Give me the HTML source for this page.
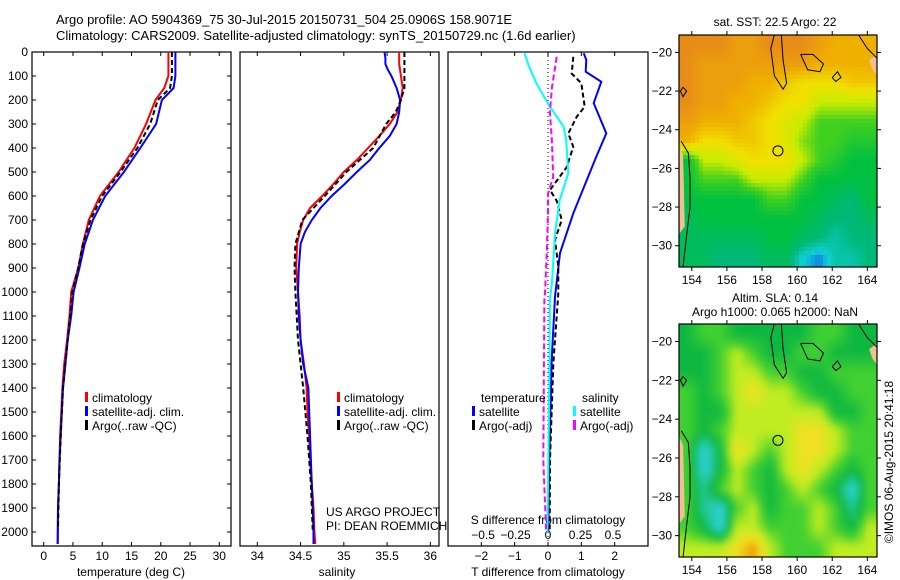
<!DOCTYPE html>
<html><head><meta charset="utf-8"><style>
body{margin:0;background:#fff}
svg{display:block;font-family:"Liberation Sans",sans-serif}
text{font-size:12px;fill:#000}
</style></head><body>
<svg id="chart" width="900" height="580" viewBox="0 0 900 580">
<defs>
<filter id="blur" x="0" y="0" width="1" height="1"><feGaussianBlur stdDeviation="3"/></filter>
<clipPath id="clipTop"><rect x="679" y="35" width="198" height="232"/></clipPath>
<clipPath id="clipBot"><rect x="679" y="324" width="198" height="233"/></clipPath>
</defs>
<text x="56" y="24" style="font-size:13px">Argo profile: AO 5904369_75 30-Jul-2015 20150731_504 25.0906S 158.9071E</text>
<text x="56" y="40" style="font-size:13px">Climatology: CARS2009. Satellite-adjusted climatology: synTS_20150729.nc (1.6d earlier)</text>
<g id="g"></g>
</svg>
<script>
// ---- data ----
const depthT=[0,50,100,150,200,300,400,500,600,700,800,900,1000,1100,1200,1300,1400,1500,1600,1700,1800,1900,2000,2050];
const tempClim=[21.3,21.3,21.3,20.6,19.1,17.5,15.5,12.8,9.6,7.7,6.7,5.9,4.7,4.4,4.0,3.5,3.2,3.0,2.8,2.7,2.6,2.45,2.4,2.35];
const tempSat=[22.5,22.5,22.5,22.2,20.2,19.2,16.5,13.7,10.5,8.4,7.0,6.1,5.1,4.7,4.1,3.7,3.3,3.1,2.9,2.7,2.6,2.45,2.4,2.4];
const depthArgoT=[0,50,100,150,200,300,400,500,600,700,800,900,1000,1200,1400,1600,1800,1990];
const tempArgo=[21.9,21.9,21.9,21.6,19.5,18.2,16.0,13.1,10.0,8.0,6.7,5.9,4.9,4.1,3.3,2.9,2.6,2.45];
const depthS=[0,25,50,75,100,150,200,250,300,350,400,450,500,550,600,650,700,750,800,900,1000,1100,1200,1300,1400,1500,1600,1700,1800,1900,2000,2050];
const salClim=[35.64,35.64,35.64,35.65,35.66,35.68,35.66,35.62,35.53,35.41,35.28,35.15,35.0,34.88,34.75,34.61,34.53,34.49,34.46,34.45,34.47,34.49,34.5,34.54,34.57,34.58,34.6,34.61,34.63,34.65,34.66,34.67];
const salSat=[35.47,35.48,35.48,35.51,35.55,35.61,35.65,35.64,35.61,35.53,35.41,35.3,35.15,35.01,34.86,34.73,34.63,34.55,34.5,34.48,34.47,34.48,34.5,34.53,34.59,34.6,34.61,34.62,34.63,34.64,34.65,34.65];
const depthArgoS=[0,100,150,200,250,300,400,500,600,700,800,900,1000,1200,1400,1600,1800,1990];
const salArgo=[35.7,35.7,35.7,35.66,35.6,35.49,35.34,35.03,34.78,34.52,34.44,34.43,34.44,34.47,34.53,34.58,34.62,34.64];
const depthDT=[5,33,82,124,213,339,436,672,838,1020,1283,1700,2000];
const dTSat=[1.07,1.15,1.13,1.6,1.37,1.75,1.45,0.76,0.36,0.21,0.11,0.04,0.01];
const depthDTA=[20,90,130,228,270,339,395,480,575,620,700,783,894,1005,1300,1700,1990];
const dTArgo=[0.76,0.71,1.0,1.1,0.86,0.61,0.76,0.56,0.06,0.26,0.41,0.21,0.31,0.31,0.16,0.06,0.05];
const depthDS=[5,55,130,228,311,367,505,617,755,964,1033,1500,2000];
const dSSat=[-0.18,-0.15,-0.09,0.015,0.12,0.14,0.156,0.09,0.054,0.03,0.015,0.008,-0.005];
const depthDSA=[20,150,250,370,520,590,675,840,1005,1033,1700,1990];
const dSArgo=[0.067,0.03,0.015,0.03,0.04,0.0,0.0,-0.01,-0.023,-0.028,-0.036,-0.015];
const depthTicks=[0,100,200,300,400,500,600,700,800,900,1000,1100,1200,1300,1400,1500,1600,1700,1800,1900,2000];
const tempTicks=[0,5,10,15,20,25,30];
const salTicks=[34,34.5,35,35.5,36];
const dTTicks=[-2,-1,0,1,2];
const dSTicks=[-0.5,-0.25,0,0.25,0.5];
const lonTicks=[154,156,158,160,162,164];
const latTicks=[-20,-22,-24,-26,-28,-30];
const sstGrid=[
[8,8,8,7.5,7.5,8,8,8,7.5,7,7,7],[8,7.5,7.5,7.5,7.5,7.5,7.5,7.5,7,7,7,7],[8,7.5,7.5,7.5,7,7,6.5,6,6,6,6.5,6.5],
[8,7.5,7.5,7,7,6.5,6,6,5,5,5,5],[7.5,7,7,7,6.5,6,5.5,5,4,4,4,4],[7,6,6,6.5,6.5,6,5.5,4.5,4,4,3.5,3.5],
[3,5,5,5.5,6,6,6,5,4,3.5,3,3],[3,4,4,4,5,5,5,4,3,3,3,3],[3,3,3,3,3,4,4,3,3,2.5,2,3],
[2.5,3,3,3,3,3,3,3,2.5,2,2,2.5],[2.5,2.5,2.5,2.5,2.5,3,3,2.5,2,1.5,2,2],[2.5,2.5,2,2,2,2.5,2.5,1,0.5,1.5,1.5,2]];
const slaGrid=[
[3,4,4,3,3,3,3,3,4,4,3,3],[3,3,4,5,4,3,3,4,4,3,3,3],[3,3,4,5,5,4,4,3,3,4,4,4],
[4,3,4,5,6,5,5,4,3,3,4,4],[4,3,3,5,5,5,5,5,5,3,3,4],[4,3,4,5,5,5,5,6,6,5,4,4],
[4,1,3,6,5,4,5,6,6,5,4,4],[4,1,3,5,4,3,5,6,5,4,3,4],[4,2,4,5,4,3,4,5,4,3,1,4],
[4,2,1,4,5,3,4,4,5,4,2,4],[4,3,1,5,5,4,4,4,5,4,3,5],[5,5,5,6,7,5,4,4,4,5,5,5]];
const argoLon=158.9071, argoLat=-25.0906;

// ---- drawing ----
const NS='http://www.w3.org/2000/svg';
const G=document.getElementById('g');
function mk(tag,attrs,parent){const e=document.createElementNS(NS,tag);for(const k in attrs)e.setAttribute(k,attrs[k]);(parent||G).appendChild(e);return e;}
function txt(x,y,s,anchor,name,extra){const t=mk('text',Object.assign({x:x,y:y,'text-anchor':anchor||'start'},extra||{}));t.textContent=s;


return t;}
const yD=d=>52+d*0.24;
const Y0=52,Y1=546;
function lin(d0,d1,p0,p1){return v=>p0+(v-d0)*(p1-p0)/(d1-d0);}
const xT=lin(-2,32,32,231), xS=lin(33.8,36.1,240,439), xDT=lin(-3,3,448,648), xDS=lin(-0.77,0.77,448,648);

function panel(x0,x1,name){const r=mk('rect',{x:x0,y:Y0,width:x1-x0,height:Y1-Y0,fill:'none',stroke:'#000','stroke-width':1.2});

}
function line(xs,ds,xf,color,dash,name){const pts=xs.map((v,i)=>xf(v).toFixed(1)+','+yD(ds[i]).toFixed(1)).join(' ');
const p=mk('polyline',{points:pts,fill:'none',stroke:color,'stroke-width':2});if(dash)p.setAttribute('stroke-dasharray',dash);

}

panel(32,231,'temperature-panel');panel(240,439,'salinity-panel');panel(448,648,'difference-panel');
depthTicks.forEach(d=>{const y=yD(d);mk('line',{x1:32,y1:y,x2:36,y2:y,stroke:'#000'});mk('line',{x1:227,y1:y,x2:231,y2:y,stroke:'#000'});
txt(28,y+4,String(d),'end','depth-tick-label');});
function xticks(ticks,xf,yl,name,fmt){ticks.forEach(v=>{const x=xf(v);mk('line',{x1:x,y1:Y0,x2:x,y2:Y0+4,stroke:'#000'});mk('line',{x1:x,y1:Y1,x2:x,y2:Y1-4,stroke:'#000'});
txt(x,yl,fmt?fmt(v):String(v),'middle',name);});}
xticks(tempTicks,xT,560,'temperature-tick-label');
xticks(salTicks,xS,560,'salinity-tick-label');
xticks(dTTicks,xDT,560,'t-diff-tick-label',v=>v<0?'\u2212'+(-v):String(v));
dSTicks.forEach(v=>{txt(xDS(v),539,v<0?'\u2212'+(-v):String(v),'middle','s-diff-tick-label');});
txt(131,576,'temperature (deg C)','middle','temperature-axis-title');
txt(337,576,'salinity','middle','salinity-axis-title');
txt(548,576,'T difference from climatology','middle','t-diff-axis-title');
txt(548,524,'S difference from climatology','middle','s-diff-axis-title');

line(tempClim,depthT,xT,'#f00',null,'temp-climatology-line');
line(tempSat,depthT,xT,'#00f',null,'temp-satellite-line');
line(tempArgo,depthArgoT,xT,'#000','5,3','temp-argo-line');
line(salClim,depthS,xS,'#f00',null,'sal-climatology-line');
line(salSat,depthS,xS,'#00f',null,'sal-satellite-line');
line(salArgo,depthArgoS,xS,'#000','5,3','sal-argo-line');
mk('line',{x1:xDT(0),y1:Y0,x2:xDT(0),y2:Y1,stroke:'#000','stroke-width':1,'stroke-dasharray':'1,3'});
line(dTSat,depthDT,xDT,'#00f',null,'t-diff-satellite-line');
line(dTArgo,depthDTA,xDT,'#000','5,3','t-diff-argo-line');
line(dSSat,depthDS,xDS,'#0ff',null,'s-diff-satellite-line');
line(dSArgo,depthDSA,xDS,'#f0f','6,3','s-diff-argo-line');

function legend(x,y,color,label,name){const r=mk('rect',{x:x,y:y-10,width:3,height:10,fill:color});


txt(x+7,y,label,'start',name);}
[[85,'climatology','#f00'],[85,'satellite-adj. clim.','#00f'],[85,'Argo(..raw -QC)','#000']].forEach((e,i)=>legend(e[0],402+i*14,e[2],e[1],'temp-legend-entry'));
[[337,'climatology','#f00'],[337,'satellite-adj. clim.','#00f'],[337,'Argo(..raw -QC)','#000']].forEach((e,i)=>legend(e[0],402+i*14,e[2],e[1],'sal-legend-entry'));
txt(481,402,'temperature','start','legend-temperature-heading');
txt(582,402,'salinity','start','legend-salinity-heading');
legend(472,416,'#00f','satellite','legend-t-satellite');
legend(472,430,'#000','Argo(-adj)','legend-t-argo');
legend(573,416,'#0ff','satellite','legend-s-satellite');
legend(573,430,'#f0f','Argo(-adj)','legend-s-argo');
txt(326,516,'US ARGO PROJECT','start','project-label');
txt(326,530,'PI: DEAN ROEMMICH','start','pi-label');

// maps
const xLon=lin(153.27,164.55,679,877);
const sstStops=['#1040e0','#10d0d8','#00b878','#00c040','#40d020','#c8ec00','#f0e000','#f0b000','#e88c18'];
const slaStops=['#1040e0','#30d0e0','#20c890','#10b840','#40d030','#c0ec20','#f0e020','#f0a000'];
function hex(c){return [1,3,5].map(i=>parseInt(c.substr(i,2),16));}
function cmap(stops,v){v=Math.max(0,Math.min(stops.length-1,v));const i=Math.min(stops.length-2,Math.floor(v)),f=v-i;
const a=hex(stops[i]),b=hex(stops[i+1]);return 'rgb('+a.map((x,k)=>Math.round(x+(b[k]-x)*f)).join(',')+')';}
function sample(grid,r,c){const nr=grid.length,nc=grid[0].length;
r=Math.max(0,Math.min(nr-1,r));c=Math.max(0,Math.min(nc-1,c));const r0=Math.min(nr-2,Math.floor(r)),c0=Math.min(nc-2,Math.floor(c));
const fr=r-r0,fc=c-c0;return grid[r0][c0]*(1-fr)*(1-fc)+grid[r0][c0+1]*(1-fr)*fc+grid[r0+1][c0]*fr*(1-fc)+grid[r0+1][c0+1]*fr*fc;}
function map(top,bot,grid,stops,clip,blur,name,pre){
const yLat=lin(-19.1,-31.1,top,bot);
const g=mk('g',{'clip-path':'url(#'+clip+')'});


const inner=mk('g',blur?{filter:'url(#blur)'}:{},g);
const nr=grid.length,nc=grid[0].length;const px=4;
for(let y=top-8;y<bot+8;y+=px){for(let x=679-8;x<877+8;x+=px){
const r=(y+px/2-top)/(bot-top)*nr-0.5,c=(x+px/2-679)/198*nc-0.5;
mk('rect',{x:x,y:y,width:px+0.5,height:px+0.5,fill:cmap(stops,sample(grid,r,c))},inner);}}
const land=[[153.27,-24.9],[153.5,-25.3],[153.55,-27],[153.6,-29],[153.27,-29.4]];
mk('polygon',{points:land.map(p=>xLon(p[0])+','+yLat(p[1])).join(' '),fill:'#f0c090'},g);
mk('polygon',{points:[[164.55,-20.1],[164.1,-20.4],[164.3,-20.9],[164.55,-21.2]].map(p=>xLon(p[0])+','+yLat(p[1])).join(' '),fill:'#f0c090'},g);
const cl=[[[153.4,-24.6],[153.8,-25.2],[153.9,-26.5],[153.9,-28],[153.7,-29.5],[153.5,-31.1]],
[[158.7,-19.1],[158.5,-19.8],[158.7,-21.2],[159.2,-21.9],[159.4,-21.6],[159.2,-20.4],[159.1,-19.1]],
[[160.2,-20.1],[160.9,-20.1],[161.5,-20.6],[161.3,-21.0],[160.6,-20.9],[160.2,-20.1]],
[[162.0,-21.3],[162.3,-21.0],[162.5,-21.3],[162.2,-21.5],[162.0,-21.3]],
[[153.5,-21.8],[153.7,-22.0],[153.5,-22.3],[153.35,-22.0],[153.5,-21.8]],
[[163.5,-19.1],[164.0,-19.8],[164.55,-20.3]]];
cl.forEach(c=>mk('polyline',{points:c.map(p=>xLon(p[0])+','+yLat(p[1])).join(' '),fill:'none',stroke:'#000','stroke-width':1},g));
const frame=mk('rect',{x:679,y:top,width:198,height:bot-top,fill:'none',stroke:'#000','stroke-width':1.2});


const c=mk('circle',{cx:xLon(argoLon),cy:yLat(argoLat),r:5,fill:'none',stroke:'#000','stroke-width':1});


lonTicks.forEach(v=>{const x=xLon(v);mk('line',{x1:x,y1:top,x2:x,y2:top-4,stroke:'#000'});mk('line',{x1:x,y1:bot,x2:x,y2:bot+4,stroke:'#000'});
txt(x,bot+17,String(v),'middle',pre+'-lon-tick-label');});
latTicks.forEach(v=>{const y=yLat(v);mk('line',{x1:679,y1:y,x2:675,y2:y,stroke:'#000'});mk('line',{x1:877,y1:y,x2:881,y2:y,stroke:'#000'});
txt(672,y+4,'\u2212'+(-v),'end',pre+'-lat-tick-label');});
}
map(35,267,sstGrid,sstStops,'clipTop',false,'sst-map','sst');
map(324,557,slaGrid,slaStops,'clipBot',true,'sla-map','sla');
txt(775,26,'sat. SST: 22.5 Argo: 22','middle','sst-map-title');
txt(775,302,'Altim. SLA: 0.14','middle','sla-map-title-1');
txt(775,316,'Argo h1000: 0.065 h2000: NaN','middle','sla-map-title-2');
txt(0,0,'\u00a9IMOS 06-Aug-2015 20:41:18','middle','copyright-timestamp',{transform:'translate(893,462) rotate(-90)'});
</script>
</body></html>
